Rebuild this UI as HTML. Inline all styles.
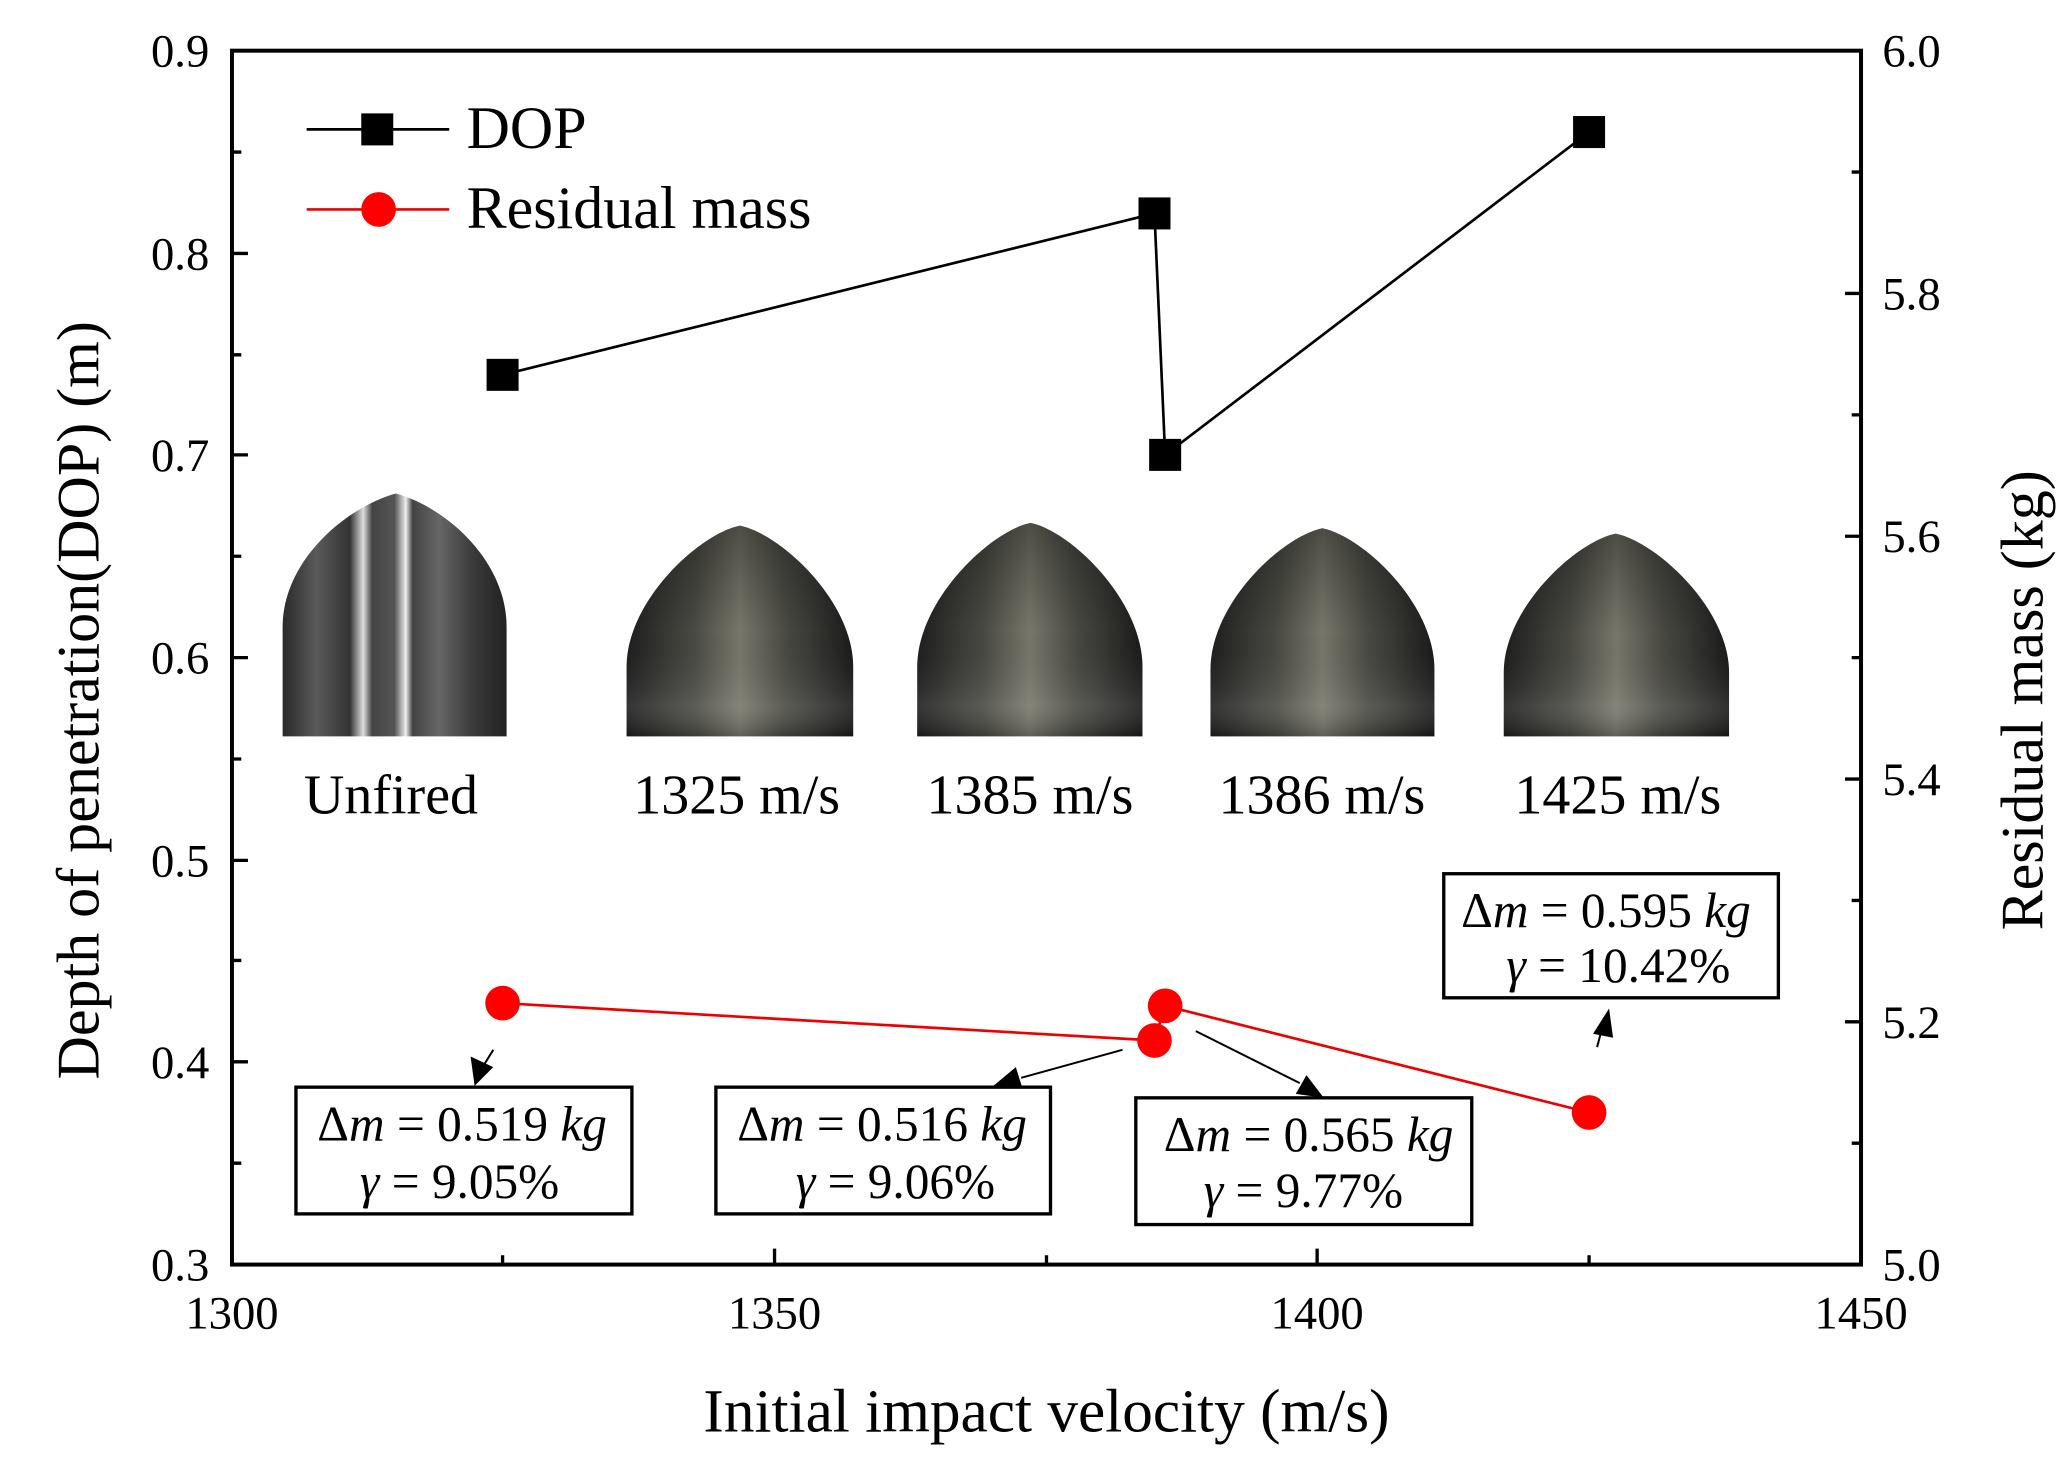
<!DOCTYPE html>
<html><head><meta charset="utf-8"><style>html,body{margin:0;padding:0;background:#fff}svg{display:block}</style></head>
<body>
<svg width="2069" height="1458" viewBox="0 0 1552 1093" preserveAspectRatio="none" xmlns="http://www.w3.org/2000/svg" font-family="Liberation Serif, serif">
<defs>
<linearGradient id="g0" x1="0" x2="1" y1="0" y2="0">
<stop offset="0" stop-color="#2a2a2a"/><stop offset="0.15" stop-color="#5a5a5a"/><stop offset="0.3" stop-color="#333"/><stop offset="0.36" stop-color="#ddd"/><stop offset="0.4" stop-color="#444"/><stop offset="0.5" stop-color="#555"/><stop offset="0.55" stop-color="#eee"/><stop offset="0.58" stop-color="#444"/><stop offset="0.7" stop-color="#666"/><stop offset="0.85" stop-color="#3a3a3a"/><stop offset="1" stop-color="#222"/></linearGradient>
<linearGradient id="g1" x1="0" x2="1" y1="0" y2="0">
<stop offset="0" stop-color="#1e1e1e"/><stop offset="0.3" stop-color="#4a4a44"/><stop offset="0.5" stop-color="#77776a"/><stop offset="0.7" stop-color="#4a4a44"/><stop offset="1" stop-color="#1a1a1a"/></linearGradient>
<linearGradient id="g2" x1="0" x2="0" y1="0" y2="1">
<stop offset="0" stop-color="#000" stop-opacity="0.35"/><stop offset="0.5" stop-color="#000" stop-opacity="0"/><stop offset="0.85" stop-color="#fff" stop-opacity="0.1"/><stop offset="1" stop-color="#000" stop-opacity="0.2"/></linearGradient>
</defs>
<!-- bullets -->
<path d="M212,552 L212,470 C212,420 260,380 297,370 C334,380 380,420 380,470 L380,552 Z" fill="url(#g0)"/>
<path d="M470,552 L470,500 C470,450 525,400 555,394 C585,400 640,450 640,500 L640,552 Z" fill="url(#g1)"/>
<path d="M470,552 L470,500 C470,450 525,400 555,394 C585,400 640,450 640,500 L640,552 Z" fill="url(#g2)"/>
<path d="M688,552 L688,500 C688,450 743,398 773,392 C803,398 857,450 857,500 L857,552 Z" fill="url(#g1)"/>
<path d="M688,552 L688,500 C688,450 743,398 773,392 C803,398 857,450 857,500 L857,552 Z" fill="url(#g2)"/>
<path d="M908,552 L908,502 C908,452 962,402 992,396 C1022,402 1076,452 1076,502 L1076,552 Z" fill="url(#g1)"/>
<path d="M908,552 L908,502 C908,452 962,402 992,396 C1022,402 1076,452 1076,502 L1076,552 Z" fill="url(#g2)"/>
<path d="M1128,552 L1128,504 C1128,456 1182,406 1212,400 C1242,406 1297,456 1297,504 L1297,552 Z" fill="url(#g1)"/>
<path d="M1128,552 L1128,504 C1128,456 1182,406 1212,400 C1242,406 1297,456 1297,504 L1297,552 Z" fill="url(#g2)"/>
<g fill="#000" font-size="42">
<text x="228" y="610">Unfired</text>
<text x="475" y="610">1325 m/s</text>
<text x="695" y="610">1385 m/s</text>
<text x="914" y="610">1386 m/s</text>
<text x="1136" y="610">1425 m/s</text>
</g>
<!-- axes -->
<rect x="174" y="38" width="1222" height="910" fill="none" stroke="#000" stroke-width="3"/>
<g stroke="#000" stroke-width="2.5">
<path d="M174,190h12M174,341h12M174,493h12M174,645h12M174,796h12"/>
<path d="M174,114h7M174,266h7M174,417h7M174,569h7M174,720h7M174,872h7"/>
<path d="M1396,220h-12M1396,402h-12M1396,584h-12M1396,766h-12"/>
<path d="M1396,129h-7M1396,311h-7M1396,493h-7M1396,675h-7M1396,857h-7"/>
<path d="M581,948v-12M988,948v-12M377,948v-7M785,948v-7M1192,948v-7"/>
</g>
<g font-size="35" fill="#000">
<g text-anchor="end">
<text x="157" y="50">0.9</text><text x="157" y="202">0.8</text><text x="157" y="353">0.7</text><text x="157" y="505">0.6</text><text x="157" y="657">0.5</text><text x="157" y="808">0.4</text><text x="157" y="960">0.3</text>
</g>
<text x="1412" y="50">6.0</text><text x="1412" y="232">5.8</text><text x="1412" y="414">5.6</text><text x="1412" y="596">5.4</text><text x="1412" y="778">5.2</text><text x="1412" y="960">5.0</text>
<g text-anchor="middle">
<text x="174" y="996">1300</text><text x="581" y="996">1350</text><text x="988" y="996">1400</text><text x="1396" y="996">1450</text>
</g>
</g>
<text x="785" y="1073" font-size="46" text-anchor="middle">Initial impact velocity (m/s)</text>
<text transform="translate(74,525) rotate(-90)" font-size="45" text-anchor="middle">Depth of penetration(DOP) (m)</text>
<text transform="translate(1532,525) rotate(-90)" font-size="45" text-anchor="middle">Residual mass (kg)</text>
<!-- legend -->
<path d="M230,97H337" stroke="#000" stroke-width="2"/>
<rect x="271" y="85" width="24" height="24" fill="#000"/>
<text x="350" y="111" font-size="45">DOP</text>
<path d="M230,157H337" stroke="#e00" stroke-width="2"/>
<circle cx="284" cy="157" r="13" fill="#f00"/>
<text x="350" y="171" font-size="45">Residual mass</text>
<!-- series -->
<polyline points="377,281 866,160 874,341 1192,99" fill="none" stroke="#000" stroke-width="2"/>
<g fill="#000">
<rect x="365" y="269" width="24" height="24"/><rect x="854" y="148" width="24" height="24"/><rect x="862" y="329" width="24" height="24"/><rect x="1180" y="87" width="24" height="24"/>
</g>
<polyline points="377,752 866,780 874,754 1192,834" fill="none" stroke="#e00" stroke-width="2"/>
<g fill="#f00">
<circle cx="377" cy="752" r="13"/><circle cx="866" cy="780" r="13"/><circle cx="874" cy="754" r="13"/><circle cx="1192" cy="834" r="13"/>
</g>
<!-- arrows -->
<g stroke="#000" stroke-width="1.5">
<path d="M370,787L362,800"/><path d="M842,787L766,808"/><path d="M897,773L975,812"/><path d="M1198,785L1202,770"/>
</g>
<g fill="#000">
<path d="M356,814 L353,792 L370,800 Z"/><path d="M744,815 L762,800 L767,816 Z"/><path d="M993,823 L972,820 L980,806 Z"/><path d="M1207,756 L1210,778 L1195,775 Z"/>
</g>
<!-- boxes -->
<g fill="#fff" stroke="#000" stroke-width="2.5">
<rect x="222" y="815" width="252" height="95"/><rect x="537" y="815" width="251" height="95"/><rect x="852" y="823" width="252" height="95"/><rect x="1083" y="655" width="251" height="93"/>
</g>
<g font-size="37" fill="#000">
<text x="238" y="855">Δ<tspan font-style="italic">m</tspan> = 0.519 <tspan font-style="italic">kg</tspan></text>
<text x="270" y="898"><tspan font-style="italic">γ</tspan> = 9.05%</text>
<text x="553" y="855">Δ<tspan font-style="italic">m</tspan> = 0.516 <tspan font-style="italic">kg</tspan></text>
<text x="597" y="898"><tspan font-style="italic">γ</tspan> = 9.06%</text>
<text x="873" y="863">Δ<tspan font-style="italic">m</tspan> = 0.565 <tspan font-style="italic">kg</tspan></text>
<text x="903" y="905"><tspan font-style="italic">γ</tspan> = 9.77%</text>
<text x="1096" y="695">Δ<tspan font-style="italic">m</tspan> = 0.595 <tspan font-style="italic">kg</tspan></text>
<text x="1130" y="736"><tspan font-style="italic">γ</tspan> = 10.42%</text>
</g>
</svg>
</body></html>
